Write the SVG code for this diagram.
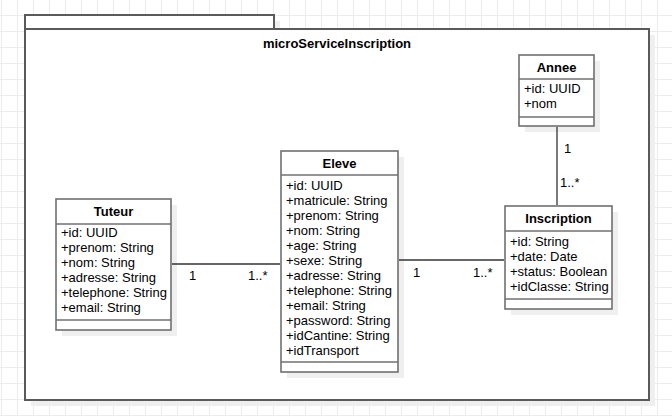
<svg xmlns="http://www.w3.org/2000/svg" width="672" height="416" viewBox="0 0 672 416">
<defs>
<pattern id="grid" x="1" y="15" width="16" height="16" patternUnits="userSpaceOnUse">
<rect x="0" y="0" width="1" height="16" fill="#ececec"/>
<rect x="0" y="0" width="16" height="1" fill="#ececec"/>
</pattern>
</defs>
<style>
.shadow{fill:#efefef;stroke:none}
.pkg{fill:#ffffff;stroke:#5a5a5a;stroke-width:2}
.box{fill:#ffffff;stroke:#707070;stroke-width:1.6}
.div{stroke:#707070;stroke-width:1.6}
.title{font-family:"Liberation Sans",Arial,sans-serif;font-size:13px;font-weight:bold;fill:#000;text-anchor:middle}
.attr{font-family:"Liberation Sans",Arial,sans-serif;font-size:13px;fill:#000}
.lbl{font-family:"Liberation Sans",Arial,sans-serif;font-size:13px;fill:#000}
.pkglbl{font-family:"Liberation Sans",Arial,sans-serif;font-size:13px;font-weight:bold;fill:#000;text-anchor:middle}
.edge{stroke:#333333;stroke-width:1.3;fill:none}
</style>
<rect x="0" y="0" width="672" height="416" fill="#ffffff"/>
<rect x="0" y="0" width="672" height="416" fill="url(#grid)"/>

<g id="package">
<rect class="shadow" x="31" y="21" width="249" height="14"/>
<rect class="shadow" x="31" y="35" width="624" height="371"/>
<rect class="pkg" x="25" y="15" width="249" height="14"/>
<rect class="pkg" x="25" y="29" width="624" height="371"/>
<text class="pkglbl" x="337" y="48">microServiceInscription</text>
</g>

<g id="Annee">
<rect class="shadow" x="525" y="61" width="75" height="71"/>
<rect class="box" x="519" y="55" width="75" height="71"/>
<line class="div" x1="519" y1="79" x2="594" y2="79"/>
<line class="div" x1="519" y1="117" x2="594" y2="117"/>
<text class="title" x="556.5" y="72">Annee</text>
<text class="attr" x="524" y="93">+id: UUID</text>
<text class="attr" x="524" y="108">+nom</text>
</g>

<g id="Tuteur">
<rect class="shadow" x="62" y="205" width="115" height="131"/>
<rect class="box" x="56" y="199" width="115" height="131"/>
<line class="div" x1="56" y1="224" x2="171" y2="224"/>
<line class="div" x1="56" y1="320" x2="171" y2="320"/>
<text class="title" x="113.5" y="216">Tuteur</text>
<text class="attr" x="61" y="237">+id: UUID</text>
<text class="attr" x="61" y="252">+prenom: String</text>
<text class="attr" x="61" y="267">+nom: String</text>
<text class="attr" x="61" y="282">+adresse: String</text>
<text class="attr" x="61" y="297">+telephone: String</text>
<text class="attr" x="61" y="312">+email: String</text>
</g>

<g id="Eleve">
<rect class="shadow" x="287" y="157" width="117" height="221"/>
<rect class="box" x="281" y="151" width="117" height="221"/>
<line class="div" x1="281" y1="175" x2="398" y2="175"/>
<line class="div" x1="281" y1="362" x2="398" y2="362"/>
<text class="title" x="339.5" y="168">Eleve</text>
<text class="attr" x="286" y="190">+id: UUID</text>
<text class="attr" x="286" y="205">+matricule: String</text>
<text class="attr" x="286" y="220">+prenom: String</text>
<text class="attr" x="286" y="235">+nom: String</text>
<text class="attr" x="286" y="250">+age: String</text>
<text class="attr" x="286" y="265">+sexe: String</text>
<text class="attr" x="286" y="280">+adresse: String</text>
<text class="attr" x="286" y="295">+telephone: String</text>
<text class="attr" x="286" y="310">+email: String</text>
<text class="attr" x="286" y="325">+password: String</text>
<text class="attr" x="286" y="340">+idCantine: String</text>
<text class="attr" x="286" y="355">+idTransport</text>
</g>

<g id="Inscription">
<rect class="shadow" x="511" y="212" width="107" height="103"/>
<rect class="box" x="505" y="206" width="107" height="103"/>
<line class="div" x1="505" y1="231" x2="612" y2="231"/>
<line class="div" x1="505" y1="299" x2="612" y2="299"/>
<text class="title" x="558.5" y="223">Inscription</text>
<text class="attr" x="510" y="246">+id: String</text>
<text class="attr" x="510" y="261">+date: Date</text>
<text class="attr" x="510" y="276">+status: Boolean</text>
<text class="attr" x="510" y="291">+idClasse: String</text>
</g>

<g id="connectors">
<line class="edge" x1="172" y1="264" x2="280" y2="264"/>
<line class="edge" x1="399" y1="260" x2="504" y2="260"/>
<line class="edge" x1="557" y1="127" x2="557" y2="205"/>
<text class="lbl" x="189" y="280">1</text>
<text class="lbl" x="248" y="280">1..*</text>
<text class="lbl" x="413" y="277">1</text>
<text class="lbl" x="473" y="277">1..*</text>
<text class="lbl" x="564" y="153">1</text>
<text class="lbl" x="560" y="187">1..*</text>
</g>
</svg>
